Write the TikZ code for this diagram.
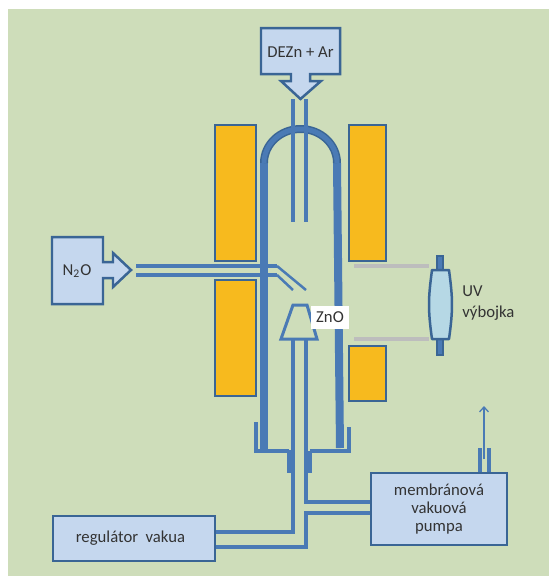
\documentclass[tikz,border=0pt]{standalone}
\usepackage{fontspec}
\setmainfont{Carlito}
\usetikzlibrary{arrows.meta}
\definecolor{bgreen}{HTML}{CEDDBA}
\definecolor{boxblue}{HTML}{C5D7EE}
\definecolor{edgeblue}{HTML}{3A6595}
\definecolor{pipeblue}{HTML}{4A7AB5}
\definecolor{heater}{HTML}{F7BA1E}
\definecolor{lampblue}{HTML}{B6D8E5}
\definecolor{bargrey}{HTML}{BDBDBD}
\definecolor{inktext}{HTML}{333333}
\tikzset{
	label text/.style={text=inktext,font=\fontsize{9.5pt}{10pt}\selectfont,inner sep=0pt,align=center},
	boxnode/.style={label text,draw=edgeblue,fill=boxblue,line width=.05cm},
	outline/.style={draw=edgeblue,fill=boxblue,line width=.05cm,line join=miter},
	heaterblock/.style={draw=edgeblue,fill=heater,line width=.05cm},
	pipe/.style={draw=pipeblue,line width=.08cm},
	thickpipe/.style={draw=pipeblue,line width=.16cm},
	greybar/.style={draw=bargrey,line width=.08cm}
}
\begin{document}
\begin{tikzpicture}[x=.02cm,y=-.02cm]
	\useasboundingbox (0,0) rectangle (549,576);
	\fill[bgreen] (8,9) rectangle (549,576);
	% heaters
	\draw[heaterblock] (215,125) rectangle (256,261);
	\draw[heaterblock] (215,280) rectangle (256,396);
	\draw[heaterblock] (349,125) rectangle (386,261);
	\draw[heaterblock] (349,346) rectangle (386,401);
	% inlet callouts
	\draw[outline] (261,28) -- (340,28) -- (340,74) -- (310,74) -- (310,81) -- (321,81) -- (300.5,99) -- (281,81) -- (291,81) -- (291,74) -- (261,74) -- cycle;
	\node[label text] (dezn) at (300.5,52) {DEZn + Ar};
	\draw[outline] (52,237) -- (103,237) -- (103,262) -- (113,262) -- (113,253) -- (131,270) -- (113,287) -- (113,278) -- (103,278) -- (103,304) -- (52,304) -- cycle;
	\node[label text] (nitrous) at (77,271) {N\textsubscript{2}O};
	% quartz tube
	\draw[thickpipe] (264,451) -- (264,163);
	\draw[thickpipe] (340,448) -- (337,163);
	\draw[edgeblue,line width=.16cm] (264,163) arc [start angle=180,end angle=360,x radius=36.5,y radius=34];
	\draw[pipeblue,line width=.1cm] (264,163) arc [start angle=180,end angle=360,x radius=36.5,y radius=34];
	% feed tubes
	\draw[pipe] (293,99) -- (293,222);
	\draw[pipe] (306,99) -- (306,222);
	\draw[pipe] (136,266) -- (277,266);
	\draw[pipe] (136,275) -- (277,275);
	\draw[pipeblue,line width=.05cm] (277,266) -- (306,290);
	\draw[pipeblue,line width=.05cm] (277,275) -- (293,290);
	% bottom flange
	\draw[pipe] (256,422) -- (256,451) -- (289,451);
	\draw[pipe] (310,451) -- (349,451) -- (349,427);
	\fill[pipeblue] (287,450) rectangle (295,473);
	\fill[pipeblue] (304,451) rectangle (312,473);
	% boxes and their lines
	\node[boxnode,minimum width=3.24cm,minimum height=.9cm] (regulator) at (134,538.5) {regulátor\ \ vakua\hspace*{.14cm}};
	\node[boxnode,minimum width=2.72cm,minimum height=1.44cm] (pump) at (439,509) {membránová\\vakuová\\pumpa};
	\draw[pipe] (regulator.east |- 0,532) -- (293,532) -- (293,339);
	\draw[pipe] (regulator.east |- 0,547) -- (306,547) -- (306,513) -- (pump.west |- 0,513);
	\draw[pipe] (306,339) -- (306,502) -- (pump.west |- 0,502);
	\draw[pipe] (pump.north -| 480,0) -- (480,448);
	\draw[pipe] (pump.north -| 489,0) -- (489,448);
	\draw[-{Straight Barb[length=.1cm,width=.18cm]},pipeblue,line width=.025cm] (484,459) -- (484,406);
	% substrate holder
	\draw[pipeblue,line width=.06cm,line join=miter] (293,305) -- (307,305) -- (317,339) -- (281,339) -- cycle;
	\node[label text,fill=white,minimum width=.76cm,minimum height=.46cm] (zno) at (330,317.5) {ZnO};
	% lamp
	\draw[greybar] (354,266) -- (429,266);
	\draw[greybar] (354,339) -- (429,339);
	\draw[draw=edgeblue,fill=pipeblue,line width=.03cm] (437,256) rectangle (443,355);
	\draw[draw=edgeblue,fill=lampblue,line width=.05cm,line join=round] (432,270) -- (449,270) .. controls (451,285) and (452,295) .. (452,304.5) .. controls (452,314) and (451,325) .. (449,339) -- (432,339) .. controls (430,325) and (429,314) .. (429,304.5) .. controls (429,295) and (430,285) .. (432,270) -- cycle;
	\node[label text,align=left,anchor=west,text depth=0pt] (uvlamp) at (462,301.5) {UV\\[2.2pt]výbojka};
\end{tikzpicture}
\end{document}
